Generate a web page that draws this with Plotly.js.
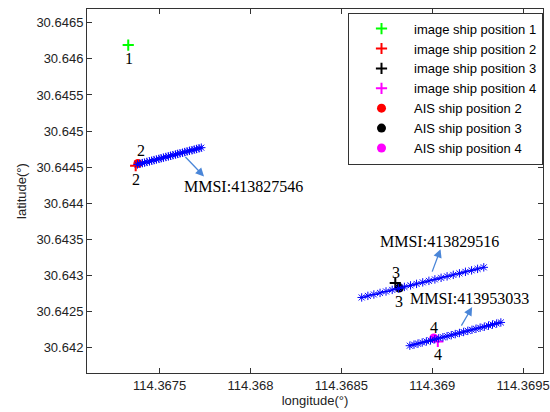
<!DOCTYPE html>
<html>
<head>
<meta charset="utf-8">
<script src="https://cdn.plot.ly/plotly-3.0.1.min.js"></script>
<style>html,body{margin:0;padding:0;background:#fff;}#chart{width:550px;height:412px;}</style>
</head>
<body>
<div id="chart"></div>
<script>
// Image ship positions (longitude, latitude)
var imgLon = [114.367327, 114.367368, 114.368797, 114.369031];
var imgLat = [30.646191, 30.644521, 30.642895, 30.642087];
var imgNames = ["image ship position 1", "image ship position 2", "image ship position 3", "image ship position 4"];
var imgColors = ["#00ff00", "#ff0000", "#000000", "#ff00ff"];

// AIS ship positions (2,3,4)
var aisLon = [114.367380, 114.368819, 114.369009];
var aisLat = [30.644552, 30.642826, 30.642134];
var aisNames = ["AIS ship position 2", "AIS ship position 3", "AIS ship position 4"];
var aisColors = ["#ff0000", "#000000", "#ff00ff"];

// AIS tracks
var track2Lon = [114.367378, 114.367391, 114.367405, 114.367417, 114.367430, 114.367444, 114.367456, 114.367469, 114.367482, 114.367496, 114.367508, 114.367521, 114.367534, 114.367548, 114.367560, 114.367573, 114.367587, 114.367599, 114.367612, 114.367626, 114.367638, 114.367651, 114.367664, 114.367678, 114.367690, 114.367703, 114.367717, 114.367729];
var track2Lat = [30.644538, 30.644546, 30.644556, 30.644563, 30.644573, 30.644580, 30.644590, 30.644598, 30.644606, 30.644615, 30.644623, 30.644632, 30.644641, 30.644649, 30.644658, 30.644666, 30.644675, 30.644684, 30.644692, 30.644700, 30.644709, 30.644718, 30.644727, 30.644734, 30.644744, 30.644752, 30.644761, 30.644770];
var track3Lon = [114.368612, 114.368646, 114.368679, 114.368713, 114.368746, 114.368780, 114.368814, 114.368847, 114.368881, 114.368914, 114.368948, 114.368982, 114.369015, 114.369049, 114.369082, 114.369116, 114.369150, 114.369183, 114.369217, 114.369250, 114.369284];
var track3Lat = [30.642696, 30.642718, 30.642737, 30.642759, 30.642779, 30.642801, 30.642821, 30.642842, 30.642863, 30.642884, 30.642905, 30.642926, 30.642946, 30.642968, 30.642988, 30.643009, 30.643030, 30.643051, 30.643071, 30.643092, 30.643113];
var track4Lon = [114.368877, 114.368900, 114.368922, 114.368945, 114.368968, 114.368991, 114.369014, 114.369036, 114.369059, 114.369082, 114.369105, 114.369127, 114.369150, 114.369173, 114.369196, 114.369219, 114.369241, 114.369264, 114.369287, 114.369310, 114.369332, 114.369355, 114.369378];
var track4Lat = [30.642028, 30.642043, 30.642057, 30.642072, 30.642087, 30.642101, 30.642116, 30.642131, 30.642145, 30.642160, 30.642174, 30.642189, 30.642204, 30.642218, 30.642233, 30.642248, 30.642262, 30.642277, 30.642291, 30.642306, 30.642321, 30.642335, 30.642350];

var mmsiLabels = ["MMSI:413827546", "MMSI:413829516", "MMSI:413953033"];

var xTickVals = [114.3675, 114.368, 114.3685, 114.369, 114.3695];
var xTickText = ["114.3675", "114.368", "114.3685", "114.369", "114.3695"];
var yTickVals = [30.642, 30.6425, 30.643, 30.6435, 30.644, 30.6445, 30.645, 30.6455, 30.646, 30.6465];
var yTickText = ["30.642", "30.6425", "30.643", "30.6435", "30.644", "30.6445", "30.645", "30.6455", "30.646", "30.6465"];

var traces = [];
for (var i = 0; i < imgLon.length; i++) {
  traces.push({
    type: 'scatter', mode: 'markers', name: imgNames[i],
    x: [imgLon[i]], y: [imgLat[i]],
    marker: {symbol: 'cross-thin-open', size: 8, line: {color: imgColors[i], width: 2}, color: imgColors[i]}
  });
}
for (var j = 0; j < aisLon.length; j++) {
  traces.push({
    type: 'scatter', mode: 'markers', name: aisNames[j],
    x: [aisLon[j]], y: [aisLat[j]],
    marker: {symbol: 'circle', size: 9, color: aisColors[j]}
  });
}
[[track2Lon, track2Lat], [track3Lon, track3Lat], [track4Lon, track4Lat]].forEach(function (t) {
  traces.push({
    type: 'scatter', mode: 'lines+markers', showlegend: false,
    x: t[0], y: t[1],
    line: {color: '#0000ff', width: 1.2},
    marker: {symbol: 'asterisk-open', size: 7, line: {color: '#0000ff', width: 1}, color: '#0000ff'}
  });
});

var serif = {family: 'Liberation Serif, Times New Roman, serif', size: 16, color: '#000'};
function numLabel(txt, x, y, xs, ys) {
  return {x: x, y: y, xref: 'x', yref: 'y', text: txt, showarrow: false, xshift: xs, yshift: ys, font: serif};
}
var ann = [
  numLabel('1', imgLon[0], imgLat[0], 1, -13),
  numLabel('2', aisLon[0], aisLat[0], 3, 13),
  numLabel('2', imgLon[1], imgLat[1], 0, -14),
  numLabel('3', imgLon[2], imgLat[2], 1, 11),
  numLabel('3', aisLon[1], aisLat[1], 0, -13),
  numLabel('4', aisLon[2], aisLat[2], 0, 11),
  numLabel('4', imgLon[3], imgLat[3], 0, -13)
];
var arrowCol = '#4a86d8';
function arrow(x0, y0, x1, y1) {
  return {x: x1, y: y1, ax: x0, ay: y0, xref: 'x', yref: 'y', axref: 'x', ayref: 'y',
    text: '', showarrow: true, arrowhead: 2, arrowsize: 1.3, arrowwidth: 1.3, arrowcolor: arrowCol, standoff: 0};
}
ann.push(arrow(114.367634, 30.644662, 114.367744, 30.644372));
ann.push(arrow(114.368997, 30.643033, 114.369046, 30.643365));
ann.push(arrow(114.369156, 30.642286, 114.369220, 30.642563));
ann.push({x: 114.367959, y: 30.644227, xref: 'x', yref: 'y', text: mmsiLabels[0], showarrow: false, font: serif});
ann.push({x: 114.369042, y: 30.643466, xref: 'x', yref: 'y', text: mmsiLabels[1], showarrow: false, font: serif});
ann.push({x: 114.369208, y: 30.642678, xref: 'x', yref: 'y', text: mmsiLabels[2], showarrow: false, font: serif});

var axFont = {family: 'Liberation Sans, Arial, sans-serif', size: 13, color: '#222'};
var layout = {
  width: 550, height: 412,
  margin: {l: 87, r: 7, t: 9, b: 39},
  paper_bgcolor: '#fff', plot_bgcolor: '#fff',
  font: axFont,
  xaxis: {
    range: [114.36710, 114.36961], tickvals: xTickVals, ticktext: xTickText,
    showgrid: false, zeroline: false, showline: true, linecolor: '#333', linewidth: 1,
    mirror: 'ticks', ticks: 'inside', ticklen: 5, tickcolor: '#333', tickfont: axFont,
    title: {text: 'longitude(°)', font: axFont, standoff: 4}
  },
  yaxis: {
    range: [30.64165, 30.64669], tickvals: yTickVals, ticktext: yTickText,
    showgrid: false, zeroline: false, showline: true, linecolor: '#333', linewidth: 1,
    mirror: 'ticks', ticks: 'inside', ticklen: 5, tickcolor: '#333', tickfont: axFont,
    title: {text: 'latitude(°)', font: axFont, standoff: 6}
  },
  legend: {
    x: 1, xanchor: 'right', y: 0.99, yanchor: 'top',
    bgcolor: '#fff', bordercolor: '#333', borderwidth: 1, itemwidth: 55,
    font: {family: 'Liberation Sans, Arial, sans-serif', size: 13, color: '#000'}
  },
  annotations: ann,
  showlegend: true
};
Plotly.newPlot('chart', traces, layout, {displayModeBar: false, staticPlot: true});
</script>
</body>
</html>
